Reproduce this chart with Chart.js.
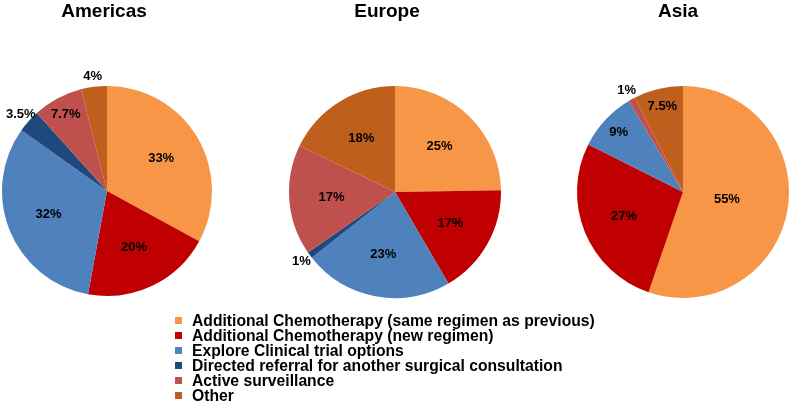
<!DOCTYPE html>
<html>
<head>
<meta charset="utf-8">
<script src="https://cdn.jsdelivr.net/npm/chart.js@4"></script>
<style>
  html, body { margin: 0; padding: 0; background: #ffffff; }
  #wrap { position: relative; width: 791px; height: 406px; overflow: hidden; }
  #wrap canvas { position: absolute; left: 0; top: 0; }
  #legend { position: absolute; left: 175px; top: 313px; font-family: "Liberation Sans", Arial, Helvetica, sans-serif; font-weight: bold; font-size: 15.7px; line-height: 15px; color: #000; }
  #legend .row { display: flex; align-items: center; height: 15px; white-space: nowrap; }
  #legend .sw { width: 7px; height: 7px; margin-right: 10px; flex: none; }
</style>
</head>
<body>
<div id="wrap">
  <canvas id="c1" width="791" height="406"></canvas>
  <canvas id="c2" width="791" height="406"></canvas>
  <canvas id="c3" width="791" height="406"></canvas>
  <div id="legend"></div>
</div>
<script>
const categories = [
  "Additional Chemotherapy (same regimen as previous)",
  "Additional Chemotherapy (new regimen)",
  "Explore Clinical trial options",
  "Directed referral for another surgical consultation",
  "Active surveillance",
  "Other"
];
const regions = ["Americas", "Europe", "Asia"];
const americasValues = [33, 20, 32, 3.5, 7.7, 4];
const europeValues = [25, 17, 23, 1, 17, 18];
const asiaValues = [55, 27, 9, 0, 1, 7.5];
const colors = ["#F79646", "#C00000", "#4F81BD", "#1F497D", "#C0504D", "#BE5F1E"];

const FONT = '"Liberation Sans", Arial, Helvetica, sans-serif';

// legend
const leg = document.getElementById('legend');
categories.forEach((c, i) => {
  const row = document.createElement('div');
  row.className = 'row';
  const sw = document.createElement('span');
  sw.className = 'sw';
  sw.style.background = colors[i];
  const t = document.createElement('span');
  t.textContent = c;
  row.appendChild(sw); row.appendChild(t);
  leg.appendChild(row);
});

const pieLabels = {
  id: 'pieLabels',
  afterDraw(chart, args, opts) {
    const ctx = chart.ctx;
    const meta = chart.getDatasetMeta(0);
    const data = chart.data.datasets[0].data;
    const total = data.reduce((a, b) => a + b, 0);
    ctx.save();
    ctx.fillStyle = '#000';
    ctx.textAlign = 'center';
    ctx.textBaseline = 'middle';
    ctx.font = 'bold 13px ' + FONT;
    meta.data.forEach((arc, i) => {
      const v = data[i];
      if (!v) return;
      const pct = v / total * 100;
      let f;
      if (pct < 5) f = 1.1;
      else if (pct < 10) f = 0.83;
      else if (pct > 45) f = 0.42;
      else f = 0.6;
      const mid = (arc.startAngle + arc.endAngle) / 2;
      const r = arc.outerRadius * f;
      const x = arc.x + Math.cos(mid) * r;
      const y = arc.y + Math.sin(mid) * r;
      ctx.fillText(v + '%', x, y);
    });
    // title
    ctx.font = 'bold 19px ' + FONT;
    ctx.fillText(opts.title, opts.titleX, opts.titleY);
    ctx.restore();
  }
};

function makePie(id, values, title, cx, cy, r, titleX) {
  const W = 791, H = 406;
  new Chart(document.getElementById(id), {
    type: 'pie',
    data: {
      labels: categories,
      datasets: [{ data: values, backgroundColor: colors, borderWidth: 0 }]
    },
    options: {
      responsive: false,
      animation: false,
      events: [],
      layout: { padding: { left: cx - r, right: W - (cx + r), top: cy - r, bottom: H - (cy + r) } },
      plugins: {
        legend: { display: false },
        tooltip: { enabled: false },
        title: { display: false },
        pieLabels: { title: title, titleX: titleX, titleY: 12 }
      }
    },
    plugins: [pieLabels]
  });
}

makePie('c1', americasValues, regions[0], 107, 191, 105, 104);
makePie('c2', europeValues, regions[1], 395, 192, 106, 387);
makePie('c3', asiaValues, regions[2], 683, 192, 106, 678);
</script>
</body>
</html>
